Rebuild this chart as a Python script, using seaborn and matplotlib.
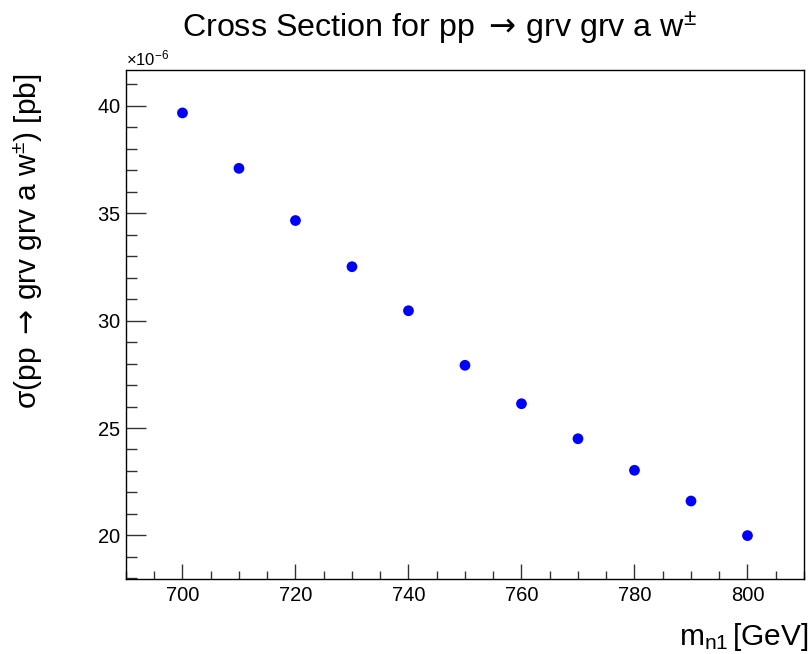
import numpy as np
import pandas as pd
import seaborn as sns
import matplotlib.pyplot as plt
from matplotlib.ticker import MultipleLocator, ScalarFormatter

# values
mass = [700, 710, 720, 730, 740, 750, 760, 770, 780, 790, 800]
xsec = [39.67, 37.09, 34.66, 32.51, 30.46, 27.92, 26.13, 24.50, 23.03, 21.60, 19.99]  # x1e-6 pb

df = pd.DataFrame({"m": mass, "xs": np.array(xsec) * 1e-6})

sns.set_style("white")
plt.rcParams['font.family'] = ['Liberation Sans', 'DejaVu Sans']
plt.rcParams['mathtext.fontset'] = 'custom'
plt.rcParams['mathtext.rm'] = 'Liberation Sans'
plt.rcParams['mathtext.it'] = 'Liberation Sans'
plt.rcParams['mathtext.sf'] = 'Liberation Sans'
plt.rcParams['mathtext.cal'] = 'DejaVu Sans'   # used for the arrow only
for k in ['text.color', 'axes.labelcolor', 'xtick.color', 'ytick.color']:
    plt.rcParams[k] = 'black'

arrow = r"$\mathcal{\rightarrow}\,$"

fig = plt.figure(figsize=(8.09, 6.54), dpi=100)
ax = fig.add_axes([0.1557, 0.1147, 0.8381, 0.7783])

sns.scatterplot(data=df, x="m", y="xs", ax=ax, color="#0000ff", s=60,
                edgecolor="none", legend=False)

ax.set_xlim(690, 810)
ax.set_ylim(17.97e-6, 41.67e-6)

ax.xaxis.set_major_locator(MultipleLocator(20))
ax.xaxis.set_minor_locator(MultipleLocator(5))
ax.yaxis.set_major_locator(MultipleLocator(5e-6))
ax.yaxis.set_minor_locator(MultipleLocator(1e-6))

fmt = ScalarFormatter(useMathText=True)
fmt.set_powerlimits((-6, -6))
ax.yaxis.set_major_formatter(fmt)
ax.yaxis.get_offset_text().set_fontsize(12)

ax.tick_params(axis="y", which="major", direction="in", length=14.4, width=1,
               color="#333333", labelsize=14.5, pad=4)
ax.tick_params(axis="y", which="minor", direction="in", length=7.7, width=1,
               color="#333333")
ax.tick_params(axis="x", which="major", direction="in", length=10.8, width=1,
               color="#333333", labelsize=14.5, pad=5)
ax.tick_params(axis="x", which="minor", direction="in", length=5.8, width=1,
               color="#333333")
ax.tick_params(left=True, bottom=True, which="both")

for sp in ax.spines.values():
    sp.set_color("black")
    sp.set_linewidth(1)

ax.set_xlabel(r"m$_{\rm n1}\,$[GeV]", fontsize=21.5, ha="right", va="top")
ax.xaxis.set_label_coords(1.007, -0.083)
ax.set_ylabel("σ(pp " + arrow + "grv grv a w$^{\\pm}$) [pb]", fontsize=21.5,
              ha="right", va="bottom")
ax.yaxis.set_label_coords(-0.1195, 0.994)

fig.text(0.543, 0.943, "Cross Section for pp " + arrow + "grv grv a w$^{\\pm}$",
         ha="center", va="baseline", fontsize=23.2)

fig.savefig("out.png", dpi=100)
